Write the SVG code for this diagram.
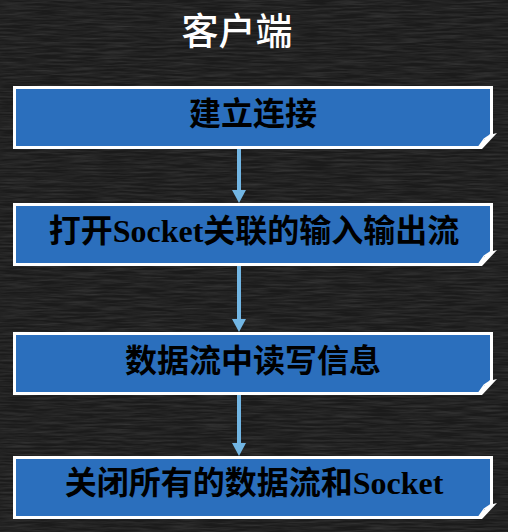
<svg xmlns="http://www.w3.org/2000/svg" xmlns:xlink="http://www.w3.org/1999/xlink" width="508" height="532" viewBox="0 0 508 532">
<style>
  .frame { fill: #ffffff; }
  .face { fill: #2b6fbd; }
  .fold { fill: #1c1c1c; stroke: #ffffff; stroke-width: 1.2; stroke-linejoin: round; }
  .label { font-family: "Liberation Serif", "Noto Sans CJK SC", serif; font-weight: bold; font-size: 32px; fill: #000000; text-anchor: middle; }
  .title { font-family: "Noto Sans CJK SC", "Noto Sans", sans-serif; font-weight: 500; font-size: 37px; fill: #ffffff; text-anchor: middle; }
  .conn { stroke: #72b6e4; stroke-width: 4; fill: none; }
</style>
<defs>
  <filter id="chalk" x="0" y="0" width="100%" height="100%">
    <feTurbulence type="fractalNoise" baseFrequency="0.03 0.5" numOctaves="3" seed="7" result="n"/>
    <feColorMatrix in="n" type="matrix" values="0 0 0 0 1  0 0 0 0 1  0 0 0 0 1  0.9 0 0 0 -0.3"/>
  </filter>
  <path id="frameShape" d="M13,0 H493 V48 L497,47 L482,63 H13 Z"/>
  <path id="faceShape" d="M16,3 H490 V49 L479,60 H16 Z"/>
  <path id="foldShape" d="M479,60 L490,49 L484,53 Z"/>
  <marker id="arrow" viewBox="0 0 13 14" refX="2" refY="7" markerWidth="13" markerHeight="14" markerUnits="userSpaceOnUse" orient="auto">
    <path d="M0,0 L13,7 L0,14 Z" fill="#72b6e4"/>
  </marker>
</defs>
<rect x="0" y="0" width="508" height="532" fill="#1b1b1b"/>
<rect x="0" y="0" width="508" height="532" filter="url(#chalk)" opacity="0.22"/>

<text class="title" x="237" y="45">客户端</text>

<g id="connectors">
  <line class="conn" x1="239" y1="149" x2="239" y2="192" marker-end="url(#arrow)"/>
  <line class="conn" x1="239" y1="266" x2="239" y2="321" marker-end="url(#arrow)"/>
  <line class="conn" x1="239" y1="394" x2="239" y2="445" marker-end="url(#arrow)"/>
</g>

<g id="node1" transform="translate(0,86)">
  <use xlink:href="#frameShape" class="frame"/>
  <use xlink:href="#faceShape" class="face"/>
  <use xlink:href="#foldShape" class="fold"/>
  <text class="label" x="253" y="39">建立连接</text>
</g>
<g id="node2" transform="translate(0,203)">
  <use xlink:href="#frameShape" class="frame"/>
  <use xlink:href="#faceShape" class="face"/>
  <use xlink:href="#foldShape" class="fold"/>
  <text class="label" x="254" y="39">打开Socket关联的输入输出流</text>
</g>
<g id="node3" transform="translate(0,332)">
  <use xlink:href="#frameShape" class="frame"/>
  <use xlink:href="#faceShape" class="face"/>
  <use xlink:href="#foldShape" class="fold"/>
  <text class="label" x="253" y="40">数据流中读写信息</text>
</g>
<g id="node4" transform="translate(0,456)">
  <use xlink:href="#frameShape" class="frame"/>
  <use xlink:href="#faceShape" class="face"/>
  <use xlink:href="#foldShape" class="fold"/>
  <text class="label" x="254" y="38">关闭所有的数据流和Socket</text>
</g>
</svg>
